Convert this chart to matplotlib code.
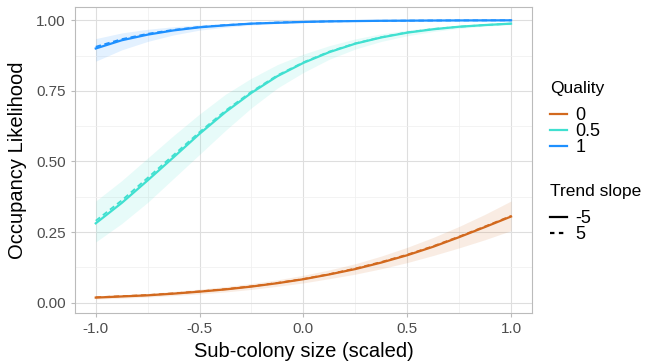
import matplotlib
matplotlib.use("Agg")
import matplotlib.pyplot as plt
from matplotlib.lines import Line2D

plt.rcParams['font.family'] = ['Liberation Sans', 'DejaVu Sans']

# Data (x in steps of 0.125)
x = [-1.0, -0.875, -0.75, -0.625, -0.5, -0.375, -0.25, -0.125, 0.0,
     0.125, 0.25, 0.375, 0.5, 0.625, 0.75, 0.875, 1.0]

# Quality 0
q0_neg = [0.018, 0.022, 0.026, 0.032, 0.039, 0.047, 0.057, 0.069, 0.083,
          0.100, 0.119, 0.142, 0.168, 0.198, 0.232, 0.268, 0.305]
q0_pos = [0.019, 0.023, 0.027, 0.033, 0.040, 0.048, 0.058, 0.070, 0.084,
          0.101, 0.121, 0.144, 0.170, 0.200, 0.234, 0.270, 0.307]
q0_lo = [0.013, 0.016, 0.020, 0.025, 0.031, 0.038, 0.047, 0.058, 0.070,
         0.085, 0.101, 0.120, 0.142, 0.167, 0.194, 0.223, 0.255]
q0_hi = [0.024, 0.028, 0.033, 0.040, 0.048, 0.057, 0.068, 0.081, 0.097,
         0.116, 0.138, 0.165, 0.196, 0.231, 0.270, 0.313, 0.360]

# Quality 0.5
q05_neg = [0.281, 0.353, 0.433, 0.515, 0.598, 0.675, 0.743, 0.802, 0.849,
           0.887, 0.917, 0.939, 0.956, 0.968, 0.977, 0.983, 0.988]
q05_pos = [0.290, 0.362, 0.442, 0.523, 0.604, 0.680, 0.747, 0.805, 0.851,
           0.889, 0.918, 0.940, 0.957, 0.969, 0.977, 0.983, 0.988]
q05_lo = [0.215, 0.280, 0.355, 0.440, 0.525, 0.610, 0.690, 0.760, 0.815,
          0.862, 0.898, 0.925, 0.945, 0.960, 0.971, 0.979, 0.984]
q05_hi = [0.360, 0.432, 0.512, 0.592, 0.668, 0.738, 0.795, 0.843, 0.880,
          0.910, 0.934, 0.952, 0.965, 0.975, 0.982, 0.987, 0.991]

# Quality 1
q1_neg = [0.900, 0.929, 0.949, 0.964, 0.975, 0.982, 0.988, 0.991, 0.994,
          0.996, 0.997, 0.998, 0.9985, 0.999, 0.9993, 0.9995, 0.9997]
q1_pos = [0.906, 0.933, 0.952, 0.966, 0.976, 0.983, 0.988, 0.992, 0.994,
          0.996, 0.997, 0.998, 0.9985, 0.999, 0.9993, 0.9995, 0.9997]
q1_lo = [0.855, 0.895, 0.925, 0.948, 0.965, 0.975, 0.983, 0.988, 0.991,
         0.994, 0.996, 0.997, 0.998, 0.9986, 0.999, 0.9993, 0.9995]
q1_hi = [0.935, 0.955, 0.968, 0.977, 0.984, 0.988, 0.992, 0.994, 0.996,
         0.997, 0.998, 0.9987, 0.9991, 0.9994, 0.9996, 0.9997, 0.9998]

qualities = ["0", "0.5", "1"]
colors = ["#D2691E", "#40E0D0", "#1E90FF"]
slopes = ["-5", "5"]

fig = plt.figure(figsize=(6.48, 3.62), dpi=100)
ax = fig.add_axes([0.1157, 0.135, 0.705, 0.845])

series = [(q0_neg, q0_pos, q0_lo, q0_hi),
          (q05_neg, q05_pos, q05_lo, q05_hi),
          (q1_neg, q1_pos, q1_lo, q1_hi)]

for (neg, pos, lo, hi), c in zip(series, colors):
    ax.fill_between(x, lo, hi, color=c, alpha=0.12, lw=0)
    ax.plot(x, neg, color=c, lw=1.6, ls="-")
    ax.plot(x, pos, color=c, lw=1.3, ls=(0, (3, 2)))

ax.set_xlim(-1.1, 1.1)
ax.set_ylim(-0.037, 1.046)
ax.set_xticks([-1.0, -0.5, 0.0, 0.5, 1.0])
ax.set_xticklabels(["-1.0", "-0.5", "0.0", "0.5", "1.0"])
ax.set_yticks([0, 0.25, 0.5, 0.75, 1.0])
ax.set_yticklabels(["0.00", "0.25", "0.50", "0.75", "1.00"])
ax.set_xticks([-0.75, -0.25, 0.25, 0.75], minor=True)
ax.set_yticks([0.125, 0.375, 0.625, 0.875], minor=True)
ax.grid(True, which="major", color="#DEDEDE", lw=0.8)
ax.grid(True, which="minor", color="#EFEFEF", lw=0.5)
ax.set_axisbelow(True)
ax.tick_params(which="major", length=3, color="#BBBBBB", labelsize=11, labelcolor="#4D4D4D")
ax.tick_params(which="minor", length=0)
for s in ax.spines.values():
    s.set_color("#BBBBBB")
    s.set_linewidth(0.8)

ax.set_xlabel("Sub-colony size (scaled)", fontsize=14.5, color="black", labelpad=4)
ax.set_ylabel("Occupancy Likelihood", fontsize=14.5, color="black", labelpad=7)

# Legends
h1 = [Line2D([], [], color=c, lw=1.6) for c in colors]
leg1 = fig.legend(h1, qualities, title="Quality", loc="upper left",
                  bbox_to_anchor=(0.849, 0.777), frameon=False, fontsize=13,
                  title_fontsize=12.5, handlelength=0.95, handletextpad=0.45,
                  labelspacing=-0.05, borderpad=0, borderaxespad=0)
leg1._legend_box.align = "left"
leg1._legend_box.sep = 8
h2 = [Line2D([], [], color="black", lw=1.6, ls="-"),
      Line2D([], [], color="black", lw=1.6, ls=(0, (2, 2)))]
leg2 = fig.legend(h2, slopes, title="Trend slope", loc="upper left",
                  bbox_to_anchor=(0.849, 0.492), frameon=False, fontsize=13,
                  title_fontsize=12.5, handlelength=0.95, handletextpad=0.45,
                  labelspacing=-0.05, borderpad=0, borderaxespad=0)
leg2._legend_box.align = "left"
leg2._legend_box.sep = 8

fig.savefig("out.png", dpi=100)
